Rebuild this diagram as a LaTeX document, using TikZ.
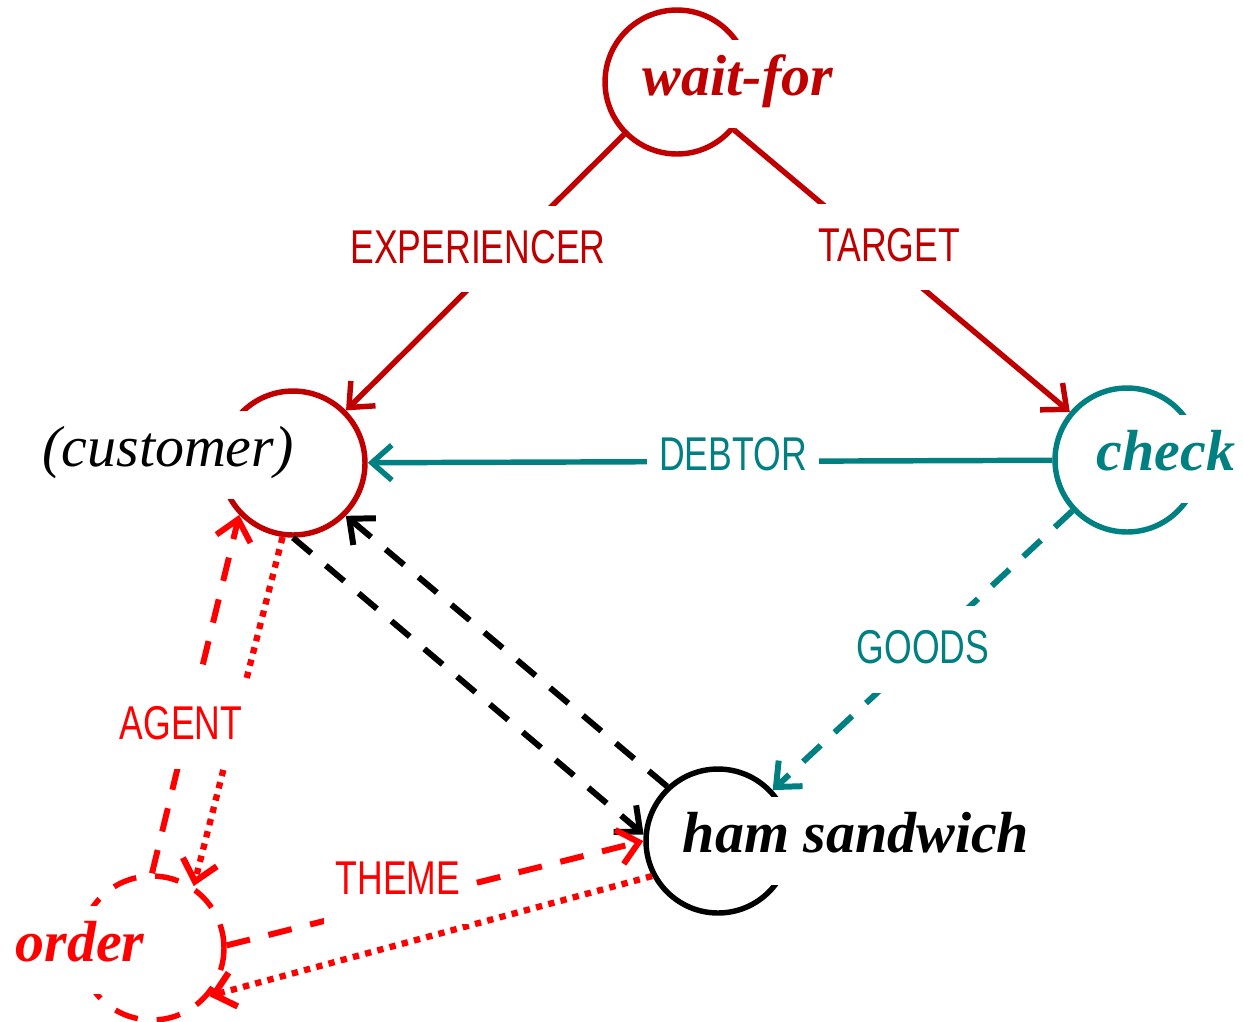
\documentclass[tikz,border=0pt]{standalone}
\usepackage{fontspec}
\setmainfont{Liberation Serif}
\newfontfamily\rolefont[FakeStretch=0.75]{Liberation Sans}
\usetikzlibrary{arrows.meta}
\definecolor{darkred}{HTML}{C00000}
\definecolor{sea}{HTML}{008080}
\tikzstyle{ring} = [circle, draw, line width=3.1pt, minimum size=2.88cm, inner sep=0pt]
\tikzstyle{word} = [fill=white, inner xsep=0.2cm, minimum height=1.76cm, text height=23pt, text depth=10pt, font=\fontsize{33}{40}\selectfont\bfseries\itshape]
\tikzstyle{role} = [fill=white, inner xsep=0.24cm, minimum height=1.74cm, text height=19.5pt, text depth=3.5pt, font=\rolefont\fontsize{27}{32}\selectfont]
\tikzstyle{link} = [line width=3.1pt, -{Straight Barb[length=4mm,width=7mm]}]
\tikzstyle{broken} = [dash pattern=on 0.48cm off 0.38cm, line width=3.4pt]
\tikzstyle{dotline} = [dash pattern=on 3.6pt off 3.6pt, line width=3.6pt]
\begin{document}
\begin{tikzpicture}[x=0.02cm, y=-0.02cm]
    \useasboundingbox (0,0) rectangle (1243,1021);
    % circles
    \node (W) [ring, draw=darkred] at (677,82) {};
    \node (C) [ring, draw=darkred] at (293,463) {};
    \node (K) [ring, draw=sea] at (1127,460) {};
    \node (H) [ring, draw=black] at (718,841) {};
    \node (O) [ring, draw=red, dash pattern=on 0.48cm off 0.38cm] at (152,948) {};

    % words
    \node (waitfor) [word, text=darkred] at (738,84) {wait-for};
    \node (customer) [word, font=\fontsize{33}{40}\selectfont\itshape] at (168,455) {(customer)};
    \node (check) [word, text=sea] at (1166,459) {check};
    \node (ham) [word] at (856,841) {ham sandwich};
    \node (order) [word, text=red] at (80,950) {order};

    % connectors
    \draw [link, darkred] (W) -- (C);
    \draw [link, darkred] (W) -- (K);
    \draw [link, sea] (K) -- (C);
    \draw [link, sea, broken] (K) -- (H);
    \draw [link, broken] (C.-90) -- (H.175);
    \draw [link, broken] (H.133) -- (C.-45);
    \draw [link, red, broken] (O.90) -- (C.-136);
    \draw [link, red, dotline] (C.-98) -- (O.56);
    \draw [link, red, broken] (O.2) -- (H.180);
    \draw [link, red, dotline] (H.-152) -- (O.-40);

    % role labels
    \node (experiencer) [role, text=darkred] at (478,249) {EXPERIENCER};
    \node (target) [role, text=darkred] at (889,247) {TARGET};
    \node (debtor) [role, text=sea] at (733,456) {DEBTOR};
    \node (goods) [role, text=sea] at (923,649) {GOODS};
    \node (agent) [role, text=red] at (181,725) {AGENT};
    \node (theme) [role, text=red] at (398,880) {THEME};
\end{tikzpicture}
\end{document}
